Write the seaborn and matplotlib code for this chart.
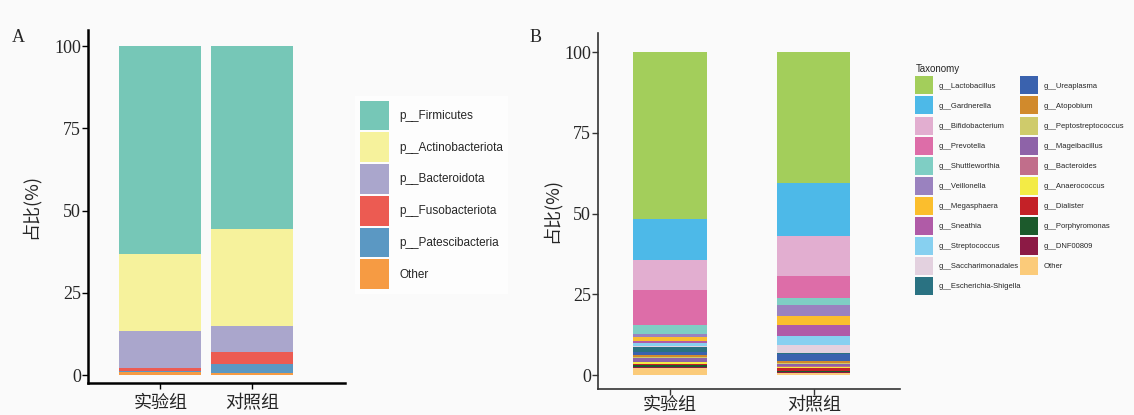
import numpy as np
import pandas as pd
import matplotlib
matplotlib.use("Agg")
import matplotlib.pyplot as plt
from matplotlib.patches import Patch
import seaborn as sns

# ---------------------------------------------------------------------------
# Data (relative abundance, %)
# ---------------------------------------------------------------------------
groups = ["实验组", "对照组"]

phyla = ["p__Firmicutes", "p__Actinobacteriota", "p__Bacteroidota",
         "p__Fusobacteriota", "p__Patescibacteria", "Other"]
phyla_exp = [63.2, 23.4, 11.2, 0.9, 0.3, 1.0]
phyla_ctl = [55.6, 29.5, 7.8, 3.6, 2.8, 0.7]
phyla_colors = ["#76C7B7", "#F6F29C", "#AAA6CC", "#EC5B52", "#5B98C3", "#F69B43"]

genera = ["g__Lactobacillus", "g__Gardnerella", "g__Bifidobacterium",
          "g__Prevotella", "g__Shuttleworthia", "g__Veillonella",
          "g__Megasphaera", "g__Sneathia", "g__Streptococcus",
          "g__Saccharimonadales", "g__Escherichia-Shigella", "g__Ureaplasma",
          "g__Atopobium", "g__Peptostreptococcus", "g__Mageibacillus",
          "g__Bacteroides", "g__Anaerococcus", "g__Dialister",
          "g__Porphyromonas", "g__DNF00809", "Other"]
genera_exp = [51.7, 12.7, 9.3, 10.8, 2.9, 0.8, 1.4, 0.6, 0.9, 0.3, 1.6, 0.8,
              0.7, 0.3, 1.0, 0.3, 0.4, 0.3, 0.8, 0.2, 2.2]
genera_ctl = [40.6, 16.4, 12.3, 6.7, 2.3, 3.4, 2.8, 3.4, 2.8, 2.4, 0.3, 2.1,
              0.7, 0.4, 0.5, 0.4, 0.4, 0.9, 0.2, 0.2, 0.8]
genera_colors = ["#A3CE5B", "#4DB9E8", "#E2AED0", "#DD6DA8", "#7FCEC4",
                 "#9A82BF", "#FBBE2D", "#B05BA7", "#87D0F0", "#E3D1DF",
                 "#2A7282", "#3A62AE", "#D18A2C", "#CFCB6B", "#8E63A8",
                 "#C16E8B", "#F3EB46", "#C42127", "#1C5A2C", "#8C1A45",
                 "#FBCB7A"]

BG = "#FAFAFA"


def stacked_bars(ax, taxa, vals_a, vals_b, colors, width):
    # cumulative totals drawn from the full stack downwards (seaborn overlap trick)
    df = pd.DataFrame({groups[0]: vals_a, groups[1]: vals_b}, index=taxa)
    cum = df[::-1].cumsum()[::-1]
    for taxon, color in zip(taxa, colors):
        sub = pd.DataFrame({"group": groups, "value": cum.loc[taxon].values})
        sns.barplot(data=sub, x="group", y="value", order=groups, color=color,
                    width=width, errorbar=None, linewidth=0, saturation=1,
                    ax=ax)


sns.set_style("ticks")
plt.rcParams["font.family"] = ["Liberation Serif", "Noto Sans CJK SC"]

fig = plt.figure(figsize=(11.34, 4.15), dpi=100, facecolor=BG)

# ---------------------------------------------------------------------------
# Panel A
# ---------------------------------------------------------------------------
axA = fig.add_axes([0.0776, 0.0771, 0.2266, 0.8506])
stacked_bars(axA, phyla, phyla_exp, phyla_ctl, phyla_colors, 0.9)
axA.set_xlim(-0.79, 2.02)
axA.set_ylim(-2.4, 104.9)

# ---------------------------------------------------------------------------
# Panel B
# ---------------------------------------------------------------------------
axB = fig.add_axes([0.5273, 0.0627, 0.2663, 0.8578])
stacked_bars(axB, genera, genera_exp, genera_ctl, genera_colors, 0.51)
axB.set_xlim(-0.5, 1.6)
axB.set_ylim(-4.3, 105.9)

for ax, lw, col, lx, xpad in [(axA, 1.8, "black", -0.187, 4),
                              (axB, 1.2, "#333333", -0.122, 1)]:
    ax.set_facecolor(BG)
    sns.despine(ax=ax)
    for s in ["left", "bottom"]:
        ax.spines[s].set_linewidth(lw)
        ax.spines[s].set_color(col)
    ax.set_yticks([0, 25, 50, 75, 100])
    ax.tick_params(axis="y", labelsize=13, length=4, width=1, color=col, pad=1)
    ax.tick_params(axis="x", labelsize=13, length=4, width=1, color=col, pad=xpad)
    ax.set_xlabel("")
    ax.set_ylabel("占比(%)", fontsize=13, family=["Noto Sans CJK SC"])
    ax.yaxis.set_label_coords(lx, 0.5)
    for t in ax.get_xticklabels():
        t.set_family(["Noto Sans CJK SC"])

fig.text(12 / 1134, 1 - 37 / 415, "A", fontsize=13, va="center", ha="left")
fig.text(530 / 1134, 1 - 37 / 415, "B", fontsize=13, va="center", ha="left")

# legends
hA = [Patch(facecolor=c, edgecolor="none", label=l) for l, c in zip(phyla, phyla_colors)]
legA = fig.legend(handles=hA, loc="upper left",
                  bbox_to_anchor=(349 / 1134, 1 - 90 / 415),
                  prop={"family": "Liberation Sans", "size": 8.5},
                  handlelength=2.45, handleheight=3.5, labelspacing=0.17,
                  handletextpad=0.9, borderpad=0.4, frameon=True, fancybox=False)
legA.get_frame().set_facecolor("white")
legA.get_frame().set_edgecolor("none")

hB = [Patch(facecolor=c, edgecolor="none", label=l) for l, c in zip(genera, genera_colors)]
legB = fig.legend(handles=hB, loc="upper left", ncol=2, title="Taxonomy",
                  bbox_to_anchor=(910 / 1134, 1 - 59 / 415),
                  prop={"family": "Liberation Sans", "size": 5.5},
                  title_fontproperties={"family": "Liberation Sans", "size": 7},
                  alignment="left",
                  handlelength=2.35, handleheight=3.25, labelspacing=0.27,
                  handletextpad=0.75, columnspacing=-0.2, borderpad=0.2,
                  frameon=False)

fig.savefig("out.png", dpi=100, facecolor=BG)
